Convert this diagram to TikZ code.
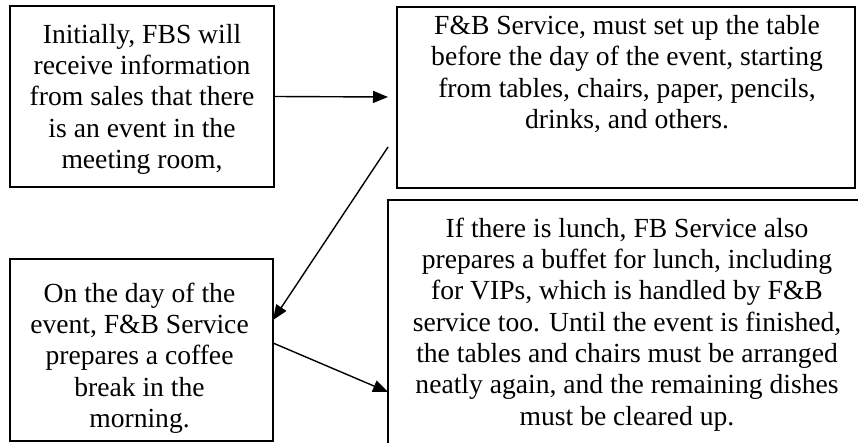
\documentclass[tikz,border=0pt]{standalone}
\usepackage{fontspec}
\setmainfont{Liberation Serif}
\usetikzlibrary{arrows.meta}
\begin{document}
\begin{tikzpicture}[x=1pt,y=-1pt,
  boxnode/.style={draw, line width=1.8pt, rectangle, inner sep=0pt, outer sep=0pt},
  txt/.style={anchor=north, inner sep=0pt, align=center,
    font=\fontsize{27.6pt}{31.3pt}\selectfont},
  flow/.style={line width=1.4pt, -{Triangle[length=15pt,width=12pt]}}]
\useasboundingbox (0,0) rectangle (858,443);
% boxes
\node[boxnode, minimum width=264pt, minimum height=181pt] (b1) at (142,96.5) {};
\node[boxnode, minimum width=458pt, minimum height=181pt] (b2) at (626,97.5) {};
\node[boxnode, minimum width=263pt, minimum height=182pt] (b3) at (141.5,350) {};
\node[boxnode, minimum width=478pt, minimum height=246pt] (b4) at (627,323) {};
% texts
\node[txt] (t1) at (142,21.1) {\strut Initially, FBS will\\receive information\\from sales that there\\is an event in the\\meeting room,};
\node[txt] (t2) at (627,12.4) {\strut F\&B Service, must set up the table\\before the day of the event, starting\\from tables, chairs, paper, pencils,\\drinks, and others.};
\node[txt] (t3) at (139.5,280.1) {\strut On the day of the\\event, F\&B Service\\prepares a coffee\\break in the\\morning.};
\node[txt] (t4) at (627,215.1) {\strut If there is lunch, FB Service also\\prepares a buffet for lunch, including\\for VIPs, which is handled by F\&B\\service too. Until the event is finished,\\the tables and chairs must be arranged\\neatly again, and the remaining dishes\\must be cleared up.};
% connectors
\coordinate (a1end) at (388,97);
\coordinate (a2start) at (388,147);
\draw[flow] (b1.east) -- (a1end);
\draw[flow] (a2start) -- ([yshift=30pt]b3.east);
\draw[flow] ([yshift=7pt]b3.east) -- ([yshift=-69pt]b4.west);
\end{tikzpicture}
\end{document}
